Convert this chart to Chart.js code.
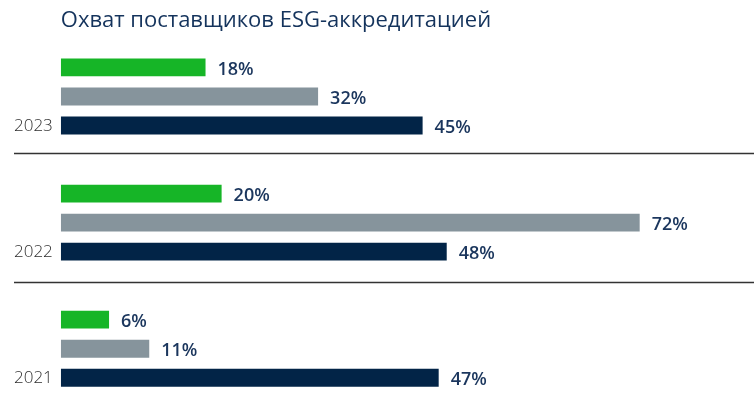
<!DOCTYPE html>
<html>
<head>
<meta charset="utf-8">
<script src="https://cdn.jsdelivr.net/npm/chart.js@4/dist/chart.umd.min.js"></script>
<style>
  html, body { margin: 0; padding: 0; background: #ffffff; overflow: hidden; }
  #wrap { width: 754px; height: 430px; }
</style>
</head>
<body>
<div id="wrap"><canvas id="c" width="754" height="430"></canvas></div>
<script>
const title = 'Охват поставщиков ESG-аккредитацией';
const years = ['2023', '2022', '2021'];
const greenValues = [18, 20, 6];
const grayValues = [32, 72, 11];
const navyValues = [45, 48, 47];
const seriesColors = ['#16b527', '#86949c', '#022447'];
const separatorShift = [-7, -4];

const decorPlugin = {
  id: 'decor',
  afterDraw(chart) {
    const ctx = chart.ctx;
    const area = chart.chartArea;
    const y = chart.scales.y;
    ctx.save();
    // title
    ctx.fillStyle = '#14335c';
    ctx.font = '500 22px "Open Sans"';
    ctx.textBaseline = 'middle';
    ctx.textAlign = 'left';
    ctx.fillText(title, area.left, 21);
    // separators
    ctx.strokeStyle = '#333333';
    ctx.lineWidth = 1.5;
    for (let i = 0; i < years.length - 1; i++) {
      const py = Math.round((y.getPixelForValue(i) + y.getPixelForValue(i + 1)) / 2 + separatorShift[i]) + 0.5;
      ctx.beginPath();
      ctx.moveTo(14, py);
      ctx.lineTo(chart.width, py);
      ctx.stroke();
    }
    // value labels
    ctx.fillStyle = '#1b365d';
    ctx.font = '600 18px "Open Sans"';
    chart.data.datasets.forEach((ds, di) => {
      const meta = chart.getDatasetMeta(di);
      meta.data.forEach((bar, i) => {
        ctx.fillText(ds.data[i] + '%', bar.x + 12, bar.y + 2);
      });
    });
    ctx.restore();
  }
};

new Chart(document.getElementById('c'), {
  type: 'bar',
  data: {
    labels: years,
    datasets: [
      { data: greenValues, backgroundColor: seriesColors[0] },
      { data: grayValues, backgroundColor: seriesColors[1] },
      { data: navyValues, backgroundColor: seriesColors[2] }
    ]
  },
  options: {
    indexAxis: 'y',
    responsive: false,
    animation: false,
    devicePixelRatio: 1,
    categoryPercentage: 0.691,
    barPercentage: 0.614,
    layout: { padding: { left: 6, right: 50, top: 33.4, bottom: 5 } },
    plugins: { legend: { display: false }, tooltip: { enabled: false }, title: { display: false } },
    scales: {
      x: { display: false, min: 0, max: 80 },
      y: {
        grid: { display: false, drawTicks: false },
        border: { display: false },
        ticks: {
          color: '#2e2e2e',
          font: { family: 'Open Sans', size: 17, weight: '300' },
          padding: 8,
          labelOffset: 29.3
        }
      }
    }
  },
  plugins: [decorPlugin]
});
</script>
</body>
</html>
